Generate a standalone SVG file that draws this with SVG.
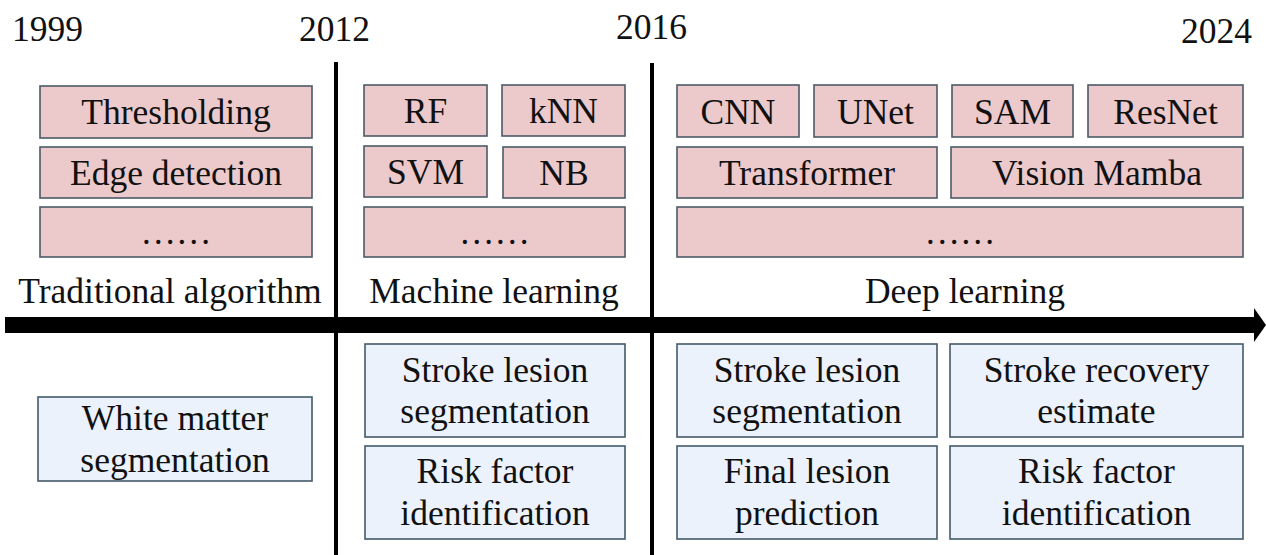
<svg xmlns="http://www.w3.org/2000/svg" width="1266" height="555" viewBox="0 0 1266 555">
<style>
text{font-family:'Liberation Serif','DejaVu Serif',serif;font-size:35.5px;fill:#111;text-anchor:middle}
.yr{text-anchor:start}
.p{fill:#ecc9cb;stroke:#4b5a66;stroke-width:1.6}
.b{fill:#ebf2fb;stroke:#44596a;stroke-width:1.6}
</style>
<rect width="1266" height="555" fill="#ffffff"/>
<g id="years">
<text class="yr" x="12" y="41">1999</text>
<text class="yr" x="299" y="41">2012</text>
<text class="yr" x="616" y="39">2016</text>
<text class="yr" x="1181" y="43">2024</text>
</g>
<g id="connectors">
<line x1="336" y1="62" x2="336" y2="555" stroke="#000" stroke-width="4"/>
<line x1="652" y1="63" x2="652" y2="555" stroke="#000" stroke-width="4"/>
<rect x="5" y="317" width="1251" height="16" fill="#000"/>
<polygon points="1254,308 1266,325 1254,342" fill="#000"/>
</g>
<g id="trad">
<g id="thresholding"><rect class="p" x="40" y="86" width="272" height="52"/><text x="176" y="124">Thresholding</text></g>
<g id="edge"><rect class="p" x="40" y="147" width="272" height="51"/><text x="176" y="185">Edge detection</text></g>
<g id="trad-more"><rect class="p" x="40" y="207" width="272" height="50"/><text x="176" y="244">……</text></g>
<text id="trad-label" x="170" y="303">Traditional algorithm</text>
</g>
<g id="ml">
<g id="rf"><rect class="p" x="364" y="85" width="123" height="51"/><text x="425.5" y="123">RF</text></g>
<g id="knn"><rect class="p" x="502" y="85" width="123" height="51"/><text x="563.5" y="123">kNN</text></g>
<g id="svm"><rect class="p" x="364" y="146" width="123" height="51"/><text x="425.5" y="184">SVM</text></g>
<g id="nb"><rect class="p" x="503" y="147" width="122" height="51"/><text x="564" y="185">NB</text></g>
<g id="ml-more"><rect class="p" x="364" y="207" width="261" height="50"/><text x="494.5" y="244">……</text></g>
<text id="ml-label" x="494" y="303">Machine learning</text>
</g>
<g id="dl">
<g id="cnn"><rect class="p" x="677" y="85" width="122" height="52"/><text x="738" y="124">CNN</text></g>
<g id="unet"><rect class="p" x="814" y="85" width="123" height="52"/><text x="875.5" y="124">UNet</text></g>
<g id="sam"><rect class="p" x="952" y="85" width="121" height="52"/><text x="1012.5" y="124">SAM</text></g>
<g id="resnet"><rect class="p" x="1088" y="85" width="155" height="52"/><text x="1165.5" y="124">ResNet</text></g>
<g id="transformer"><rect class="p" x="677" y="147" width="260" height="51"/><text x="807" y="185">Transformer</text></g>
<g id="mamba"><rect class="p" x="951" y="147" width="292" height="51"/><text x="1097" y="185">Vision Mamba</text></g>
<g id="dl-more"><rect class="p" x="677" y="207" width="566" height="50"/><text x="960" y="244">……</text></g>
<text id="dl-label" x="965" y="303">Deep learning</text>
</g>
<g id="apps">
<g id="white-matter"><rect class="b" x="38" y="397" width="274" height="84"/><text x="175" y="430">White matter</text><text x="175" y="472">segmentation</text></g>
<g id="ml-seg"><rect class="b" x="365" y="344" width="260" height="93"/><text x="495" y="382">Stroke lesion</text><text x="495" y="423">segmentation</text></g>
<g id="ml-risk"><rect class="b" x="365" y="446" width="260" height="93"/><text x="495" y="483">Risk factor</text><text x="495" y="525">identification</text></g>
<g id="dl-seg"><rect class="b" x="677" y="344" width="260" height="93"/><text x="807" y="382">Stroke lesion</text><text x="807" y="423">segmentation</text></g>
<g id="dl-final"><rect class="b" x="677" y="446" width="260" height="93"/><text x="807" y="483">Final lesion</text><text x="807" y="525">prediction</text></g>
<g id="dl-recovery"><rect class="b" x="950" y="344" width="293" height="93"/><text x="1096.5" y="382">Stroke recovery</text><text x="1096.5" y="423">estimate</text></g>
<g id="dl-risk"><rect class="b" x="950" y="446" width="293" height="93"/><text x="1096.5" y="483">Risk factor</text><text x="1096.5" y="525">identification</text></g>
</g>
</svg>
